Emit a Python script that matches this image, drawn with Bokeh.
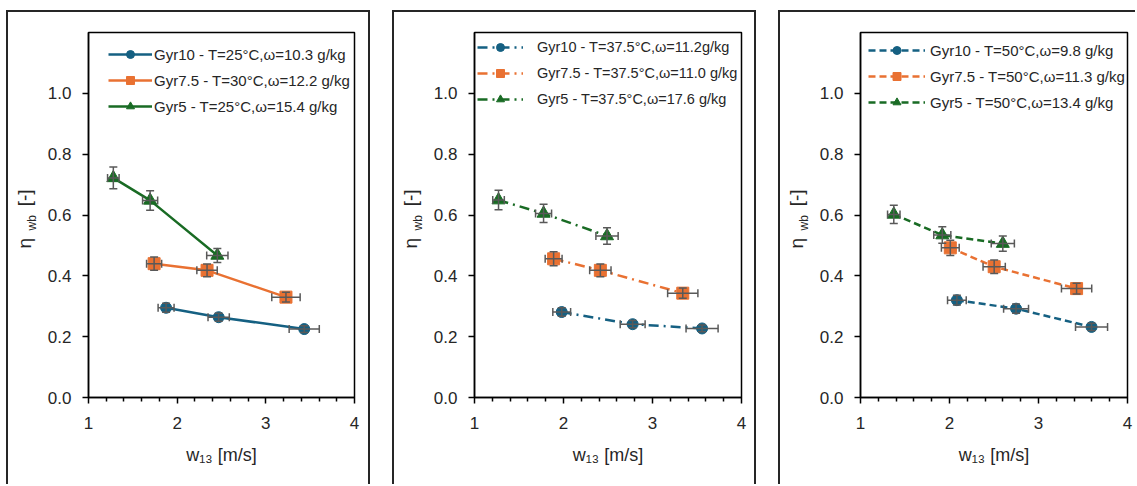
from bokeh.plotting import figure
from bokeh.models import (ColumnDataSource, Whisker, TeeHead, FixedTicker,
                          PrintfTickFormatter, Legend, LegendItem, Range1d, Title)
from bokeh.layouts import row
from bokeh.embed import file_html
from bokeh.resources import INLINE

# ---------------- data ----------------
x_ticks = [1, 2, 3, 4]
x_minor = [1.2, 1.4, 1.6, 1.8, 2.2, 2.4, 2.6, 2.8, 3.2, 3.4, 3.6, 3.8]
y_ticks = [0.0, 0.2, 0.4, 0.6, 0.8, 1.0]

series = ["Gyr10", "Gyr7.5", "Gyr5"]

# Panel 1
p1_labels = ["Gyr10 - T=25°C,ω=10.3 g/kg", "Gyr7.5 - T=30°C,ω=12.2 g/kg", "Gyr5 - T=25°C,ω=15.4 g/kg"]
p1_gyr10_x = [1.875, 2.468, 3.433]
p1_gyr10_y = [0.295, 0.264, 0.225]
p1_gyr10_xerr = [0.09, 0.12, 0.17]
p1_gyr10_yerr = [0.015, 0.013, 0.011]
p1_gyr75_x = [1.74, 2.337, 3.227]
p1_gyr75_y = [0.44, 0.418, 0.33]
p1_gyr75_xerr = [0.085, 0.115, 0.16]
p1_gyr75_yerr = [0.022, 0.021, 0.016]
p1_gyr5_x = [1.28, 1.695, 2.453]
p1_gyr5_y = [0.722, 0.648, 0.467]
p1_gyr5_xerr = [0.065, 0.085, 0.12]
p1_gyr5_yerr = [0.036, 0.032, 0.023]

# Panel 2
p2_labels = ["Gyr10 - T=37.5°C,ω=11.2g/kg", "Gyr7.5 - T=37.5°C,ω=11.0 g/kg", "Gyr5 - T=37.5°C,ω=17.6 g/kg"]
p2_gyr10_x = [1.98, 2.777, 3.557]
p2_gyr10_y = [0.281, 0.241, 0.227]
p2_gyr10_xerr = [0.1, 0.14, 0.18]
p2_gyr10_yerr = [0.014, 0.012, 0.011]
p2_gyr75_x = [1.889, 2.414, 3.34]
p2_gyr75_y = [0.456, 0.418, 0.343]
p2_gyr75_xerr = [0.095, 0.12, 0.17]
p2_gyr75_yerr = [0.023, 0.021, 0.017]
p2_gyr5_x = [1.27, 1.776, 2.489]
p2_gyr5_y = [0.649, 0.605, 0.531]
p2_gyr5_xerr = [0.065, 0.09, 0.125]
p2_gyr5_yerr = [0.032, 0.03, 0.027]

# Panel 3
p3_labels = ["Gyr10 - T=50°C,ω=9.8 g/kg", "Gyr7.5 - T=50°C,ω=11.3 g/kg", "Gyr5 - T=50°C,ω=13.4 g/kg"]
p3_gyr10_x = [2.083, 2.748, 3.596]
p3_gyr10_y = [0.32, 0.292, 0.232]
p3_gyr10_xerr = [0.105, 0.14, 0.18]
p3_gyr10_yerr = [0.016, 0.015, 0.012]
p3_gyr75_x = [2.009, 2.502, 3.428]
p3_gyr75_y = [0.492, 0.43, 0.358]
p3_gyr75_xerr = [0.1, 0.125, 0.17]
p3_gyr75_yerr = [0.025, 0.022, 0.018]
p3_gyr5_x = [1.374, 1.919, 2.599]
p3_gyr5_y = [0.602, 0.534, 0.506]
p3_gyr5_xerr = [0.07, 0.096, 0.13]
p3_gyr5_yerr = [0.03, 0.027, 0.025]

y_label_main = "η" + "\u00a0" * 6 + "[-]"
y_label_sub = "wb"
x_label = "w₁₃ [m/s]"

# ---------------- style ----------------
FONT = "Liberation Sans"
TXT = "#262626"
COLORS = ["#156082", "#E97132", "#196B24"]
MARKERS = ["circle", "square", "triangle"]
MSIZE = [11, 12, 13]
ERR = "#595959"
BORDER = "2px solid #262626"


def make_panel(labels, data, dash, width, mright, leg_loc, glyph_w, standoff,
               leg_font, right_border=True):
    p = figure(width=width, height=474, x_range=Range1d(1, 4), y_range=Range1d(0, 1.2),
               output_backend="svg", toolbar_location=None,
               min_border_left=80, min_border_right=mright,
               min_border_top=20, min_border_bottom=89)
    p.xgrid.visible = False
    p.ygrid.visible = False
    p.outline_line_color = "black"
    p.outline_line_width = 1.5
    p.outline_line_alpha = 1

    p.xaxis.ticker = FixedTicker(ticks=x_ticks, minor_ticks=x_minor)
    p.yaxis.ticker = FixedTicker(ticks=y_ticks, minor_ticks=[])
    p.yaxis.formatter = PrintfTickFormatter(format="%.1f")
    for ax in (p.xaxis[0], p.yaxis[0]):
        ax.axis_line_color = "black"
        ax.axis_line_width = 1.5
        ax.major_tick_line_color = "black"
        ax.major_tick_line_width = 1.5
        ax.major_tick_out = 6
        ax.major_tick_in = 0
        ax.minor_tick_line_color = "black"
        ax.minor_tick_line_width = 1.5
        ax.minor_tick_out = 4
        ax.minor_tick_in = 0
        ax.major_label_text_font = FONT
        ax.major_label_text_font_size = "17px"
        ax.major_label_text_color = TXT
    p.yaxis.major_label_standoff = 11
    p.xaxis.major_label_standoff = 13
    p.xaxis.axis_label = x_label
    p.xaxis.axis_label_text_font = FONT
    p.xaxis.axis_label_text_font_size = "18px"
    p.xaxis.axis_label_text_font_style = "normal"
    p.xaxis.axis_label_text_color = TXT
    p.xaxis.axis_label_standoff = 13

    items = []
    for i, (xs, ys, xe, ye) in enumerate(data):
        src = ColumnDataSource(dict(
            x=xs, y=ys,
            xlo=[a - b for a, b in zip(xs, xe)], xhi=[a + b for a, b in zip(xs, xe)],
            ylo=[a - b for a, b in zip(ys, ye)], yhi=[a + b for a, b in zip(ys, ye)]))
        lr = p.line("x", "y", source=src, line_color=COLORS[i], line_width=2.5,
                    line_dash=dash)
        sr = p.scatter("x", "y", source=src, marker=MARKERS[i], size=MSIZE[i],
                       fill_color=COLORS[i], line_color=COLORS[i])
        for dim, base, lo, hi in (("height", "x", "ylo", "yhi"), ("width", "y", "xlo", "xhi")):
            w = Whisker(source=src, base=base, lower=lo, upper=hi, dimension=dim,
                        line_color=ERR, line_width=1.5, level="annotation",
                        upper_head=TeeHead(size=8, line_color=ERR, line_width=1.5),
                        lower_head=TeeHead(size=8, line_color=ERR, line_width=1.5))
            p.add_layout(w)
        items.append(LegendItem(label=labels[i], renderers=[lr, sr]))

    leg = Legend(items=items, location=leg_loc, padding=0, margin=0, spacing=6,
                 glyph_width=glyph_w, glyph_height=20, label_height=20,
                 label_standoff=standoff, label_text_font=FONT,
                 label_text_font_size=leg_font, label_text_color=TXT,
                 border_line_alpha=0, background_fill_alpha=0)
    p.add_layout(leg)

    # y-axis label: subscript part next to the tick labels, main part pulled over it
    p.add_layout(Title(text=y_label_sub, align="left", vertical_align="bottom",
                       offset=167, standoff=11, text_font=FONT, text_font_size="12px",
                       text_font_style="normal", text_color=TXT), "left")
    p.add_layout(Title(text=y_label_main, align="left", vertical_align="bottom",
                       offset=149, standoff=-35, text_font=FONT, text_font_size="19px",
                       text_font_style="normal", text_color=TXT), "left")

    st = {"border-top": BORDER, "border-left": BORDER}
    if right_border:
        st["border-right"] = BORDER
    p.styles = st
    return p


d1 = [(p1_gyr10_x, p1_gyr10_y, p1_gyr10_xerr, p1_gyr10_yerr),
      (p1_gyr75_x, p1_gyr75_y, p1_gyr75_xerr, p1_gyr75_yerr),
      (p1_gyr5_x, p1_gyr5_y, p1_gyr5_xerr, p1_gyr5_yerr)]
d2 = [(p2_gyr10_x, p2_gyr10_y, p2_gyr10_xerr, p2_gyr10_yerr),
      (p2_gyr75_x, p2_gyr75_y, p2_gyr75_xerr, p2_gyr75_yerr),
      (p2_gyr5_x, p2_gyr5_y, p2_gyr5_xerr, p2_gyr5_yerr)]
d3 = [(p3_gyr10_x, p3_gyr10_y, p3_gyr10_xerr, p3_gyr10_yerr),
      (p3_gyr75_x, p3_gyr75_y, p3_gyr75_xerr, p3_gyr75_yerr),
      (p3_gyr5_x, p3_gyr5_y, p3_gyr5_xerr, p3_gyr5_yerr)]

p1 = make_panel(p1_labels, d1, "solid", 364, 18, (20, 281), 44, 2, "15px")
p2 = make_panel(p2_labels, d2, "10 5 2 5", 364, 17, (3, 288), 46, 14, "14.5px")
p3 = make_panel(p3_labels, d3, "7 4", 357, 10, (8, 285), 57, 5, "15px", right_border=False)

layout = row(p1, p2, p3, spacing=22,
             styles={"margin-left": "6px", "margin-top": "10px"})

open("out.html", "w").write(file_html(layout, INLINE))
